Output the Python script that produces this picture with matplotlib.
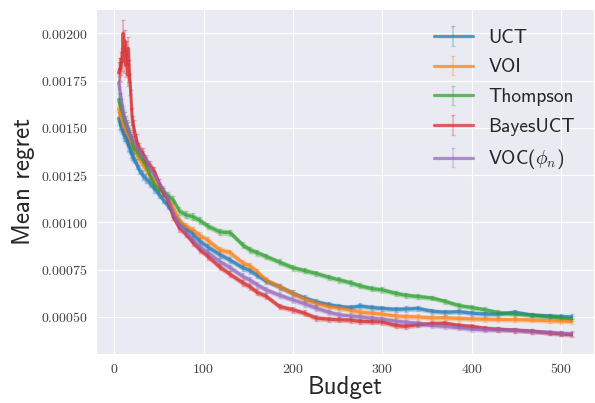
import numpy as np
import matplotlib
matplotlib.use("Agg")
import matplotlib.pyplot as plt
import seaborn as sns
from matplotlib.ticker import FuncFormatter, MultipleLocator

sns.set_style("darkgrid")
plt.rcParams['font.family'] = ['cmss10', 'DejaVu Sans']
plt.rcParams['mathtext.fontset'] = 'cm'
plt.rcParams['axes.unicode_minus'] = False

# Budget values at which the curves were read
budget = [5, 6, 7, 8, 9, 10, 11, 12, 13, 14, 15, 16, 17, 18, 19, 20, 21, 22,
          25, 28, 32, 36, 40, 45, 50, 55, 60,
          66, 73, 80, 88, 96, 105, 118, 130, 144, 152, 160, 170, 185, 200, 213, 226,
          240, 252, 265, 275, 288, 300, 315, 326, 340, 356, 370, 386, 400, 415, 430,
          448, 467, 488, 500, 512]

# Mean regret, in units of 1e-5
uct = [155, 153, 152, 151, 150, 148, 146, 146, 145, 144, 143, 141, 140, 139, 137, 136, 135, 134,
       131, 128, 125, 123, 121, 118, 115, 112, 109, 105, 100, 97, 94, 90, 87, 83, 80, 76,
       74.5, 72, 69, 66, 62.5, 60, 58, 56.5, 55.5, 55, 55.8, 55, 54.5, 54, 54.2, 54.5, 53,
       52.5, 52.8, 52, 51.5, 51.5, 52.5, 51, 50.5, 50.2, 50]
voi = [160, 158, 157, 155, 154, 152, 150, 150, 149, 148, 147, 146, 145, 144, 143, 142, 141, 140,
       137, 134, 131, 128, 125, 122, 119, 116, 113, 108, 101, 98, 96, 93, 90.5, 85.5, 84,
       78.5, 77, 74, 69.5, 66, 62.5, 59.5, 57.3, 55.5, 54.7, 53.5, 52.5, 52, 51.5, 50.5,
       50.2, 50, 49.5, 49.6, 49.2, 49, 48.8, 48.7, 48.6, 48.4, 48, 47.8, 47.6]
thompson = [165, 163, 162, 160, 159, 157, 155, 153, 152, 151, 150, 148, 147, 146, 144, 143, 141, 139,
            138, 136, 133, 130, 125, 120, 117.5, 116, 114, 112, 106, 104, 103, 101, 98, 95,
            94.5, 88, 85.5, 84, 82, 79, 76, 74.5, 73, 71, 69.6, 68, 66.5, 65, 64.3, 62.5,
            61.5, 60.8, 60, 58.3, 56, 55, 53.8, 52.3, 51.5, 51, 50, 49.5, 49]
bayesuct = [179, 181, 181, 184, 186, 200, 185, 196, 183, 190, 178, 192, 180, 173, 165, 156, 152, 150,
            143, 139, 136.5, 132, 130, 127, 121, 116, 112, 103, 97, 94, 89.5, 85.5, 82, 76.5,
            72.5, 68, 66, 63, 61, 55.5, 53.8, 52, 49.4, 48.8, 48.5, 48.3, 47.6, 47.5, 47.3,
            45.5, 45, 45.9, 46.5, 46.7, 45.5, 45, 44, 43.5, 43, 42.5, 41.5, 41, 40.6]
voc = [174, 171, 168, 165, 162, 158, 156, 155, 153, 151, 150, 148, 147, 146, 145, 144, 143, 143,
       140, 138, 135, 133, 129, 125, 121, 117, 113, 105, 98.5, 95, 91, 87, 84, 79.3, 76,
       71.4, 69.5, 67, 64.3, 61.5, 59, 57, 54.7, 52.5, 51.1, 50.5, 50, 49.3, 48.8, 47.8,
       47.2, 46.7, 45.5, 45, 44.3, 43.5, 43.2, 43.2, 43, 42.3, 41.8, 41.4, 41.1]

# Error-bar half widths, in units of 1e-5
err_common = [3.5, 3.5, 3.4, 3.4, 3.3, 3.3, 3.2, 3.2, 3.1, 3.1, 3, 3, 3, 2.9, 2.9, 2.8, 2.8, 2.8,
              2.7, 2.6, 2.5, 2.4, 2.3, 2.2, 2.1, 2.0, 2.0, 1.9, 1.9, 1.8, 1.8, 1.7, 1.7, 1.7,
              1.6, 1.6, 1.6, 1.6, 1.5, 1.5, 1.5, 1.5, 1.5, 1.4, 1.4, 1.4, 1.4, 1.4, 1.4, 1.4,
              1.4, 1.4, 1.3, 1.3, 1.3, 1.3, 1.3, 1.3, 1.3, 1.3, 1.3, 1.3, 1.3]
err_bayes = [6, 6, 6, 6, 6, 7, 6, 6, 6, 6, 6, 6, 6, 5.5, 5, 4.5, 4.2, 4,
             3.5, 3, 2.8, 2.6, 2.4, 2.2, 2.1, 2.0, 2.0, 1.9, 1.9, 1.8, 1.8, 1.7, 1.7, 1.7,
             1.6, 1.6, 1.6, 1.6, 1.5, 1.5, 1.5, 1.5, 1.5, 1.4, 1.4, 1.4, 1.4, 1.4, 1.4, 1.4,
             1.4, 1.4, 1.3, 1.3, 1.3, 1.3, 1.3, 1.3, 1.3, 1.3, 1.3, 1.3, 1.3]

labels = ["UCT", "VOI", "Thompson", "BayesUCT", r"VOC($\phi_n$)"]
series = [uct, voi, thompson, bayesuct, voc]
errors = [err_common, err_common, err_common, err_bayes, err_common]
colors = ["#1f77b4", "#ff7f0e", "#2ca02c", "#d62728", "#9467bd"]

fig = plt.figure(figsize=(5.95, 4.03), dpi=100)
ax = fig.add_axes([0.1613, 0.1216, 0.8377, 0.8554])

x = np.array(budget, dtype=float)
for lab, s, e, c in zip(labels, series, errors, colors):
    y = np.array(s) * 1e-5
    ee = np.array(e) * 1e-5
    ax.fill_between(x, y - ee, y + ee, color=c, alpha=0.3, lw=0)
    cont = ax.errorbar(x, y, yerr=ee, color=c, lw=2.3, alpha=0.72, capsize=1.5,
                       elinewidth=1.2, label=lab)
    for art in cont[1]:
        art.set_alpha(0.3)
    for art in cont[2]:
        art.set_alpha(0.3)

ax.set_xlim(-20.35, 537.35)
ax.set_ylim(0.000304, 0.002127)
ax.xaxis.set_major_locator(MultipleLocator(100))
ax.yaxis.set_major_locator(MultipleLocator(0.00025))
ax.xaxis.set_major_formatter(FuncFormatter(lambda v, p: f"${v:.0f}$"))
ax.yaxis.set_major_formatter(FuncFormatter(lambda v, p: f"${v:.5f}$"))
ax.tick_params(axis='both', labelsize=10, colors='.25', length=0, pad=6)

ax.set_xlabel("Budget", fontsize=18, labelpad=0)
ax.set_ylabel("Mean regret", fontsize=18, labelpad=4)

ax.legend(loc="upper right", fontsize=14, frameon=False, labelspacing=0.6,
          borderaxespad=0.6)

fig.savefig("out.png", dpi=100)
